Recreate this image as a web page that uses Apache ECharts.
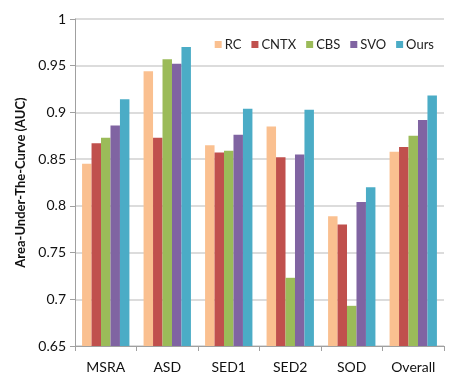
<!DOCTYPE html>
<html><head><meta charset="utf-8">
<script src="https://cdn.jsdelivr.net/npm/echarts@6/dist/echarts.min.js"></script>
<style>html,body{margin:0;padding:0;background:#fff}#c{width:459px;height:386px}</style>
</head><body><div id="c"></div>
<script>
const categories = ["MSRA", "ASD", "SED1", "SED2", "SOD", "Overall"];
const seriesNames = ["RC", "CNTX", "CBS", "SVO", "Ours"];
const RC   = [0.845, 0.944, 0.865, 0.885, 0.789, 0.858];
const CNTX = [0.867, 0.873, 0.857, 0.852, 0.780, 0.863];
const CBS  = [0.873, 0.957, 0.859, 0.723, 0.693, 0.875];
const SVO  = [0.886, 0.952, 0.876, 0.855, 0.804, 0.892];
const Ours = [0.914, 0.970, 0.904, 0.903, 0.820, 0.918];
const yTicks = [0.65, 0.7, 0.75, 0.8, 0.85, 0.9, 0.95, 1];
const colors = ["#FAC090", "#C0504D", "#9BBB59", "#8064A2", "#4BACC6"];
const values = [RC, CNTX, CBS, SVO, Ours];
const font = "Lato";

const chart = echarts.init(document.getElementById('c'), null, {renderer: 'canvas'});
chart.setOption({
  animation: false,
  color: colors,
  textStyle: {fontFamily: font},
  grid: {left: 75, right: 15, top: 19, bottom: 40, containLabel: false},
  legend: {
    data: seriesNames,
    top: 33, right: 20,
    itemWidth: 7, itemHeight: 7, itemGap: 10,
    icon: 'rect',
    textStyle: {fontFamily: font, fontSize: 13, color: '#222', padding: [0,0,0,-2]}
  },
  xAxis: {
    type: 'category',
    data: categories,
    axisLine: {lineStyle: {color: '#a0a0a0', width: 1}},
    axisTick: {show: true, length: 5, lineStyle: {color: '#a0a0a0'}},
    axisLabel: {fontFamily: font, fontSize: 14, color: '#111', margin: 14}
  },
  yAxis: {
    type: 'value',
    min: yTicks[0], max: yTicks[yTicks.length - 1], interval: 0.05,
    name: 'Area-Under-The-Curve (AUC)',
    nameLocation: 'middle', nameGap: 47, nameRotate: 90,
    nameTextStyle: {fontFamily: font, fontSize: 13, fontWeight: 'bold', color: '#111'},
    axisLine: {show: true, lineStyle: {color: '#a0a0a0'}},
    axisTick: {show: true, length: 5, lineStyle: {color: '#a0a0a0'}},
    axisLabel: {fontFamily: font, fontSize: 14, color: '#111', margin: 9,
      formatter: v => yTicks.find(t => Math.abs(t - v) < 1e-6)?.toString() ?? ''},
    splitLine: {lineStyle: {color: '#d0d0d0', width: 1.5}}
  },
  series: seriesNames.map((n, i) => ({
    name: n, type: 'bar', data: values[i],
    barGap: '0%', barCategoryGap: '23%',
    itemStyle: {color: colors[i]}
  }))
});
</script></body></html>
